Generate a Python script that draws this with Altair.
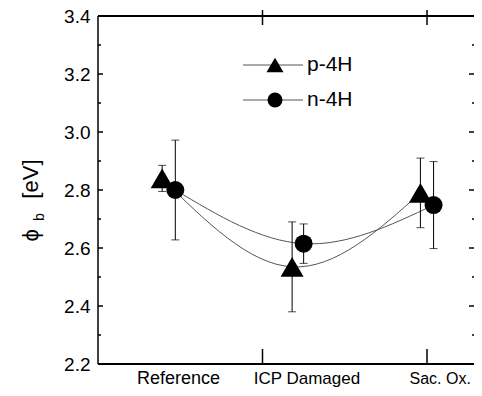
import altair as alt
import pandas as pd

series_names = ["p-4H", "n-4H"]
marker_shapes = ["triangle-up", "circle"]
categories = ["Reference", "ICP Damaged", "Sac. Ox."]
cat_pos = [0.49, 1.27, 2.08]

p_x = [0.39, 1.18, 1.96]
p_phi = [2.84, 2.535, 2.79]
p_err = [0.045, 0.155, 0.12]

n_x = [0.47, 1.25, 2.04]
n_phi = [2.80, 2.615, 2.748]
n_err = [0.172, 0.068, 0.15]

y_major = [2.2, 2.4, 2.6, 2.8, 3.0, 3.2, 3.4]
y_inner = [2.4, 2.6, 2.8, 3.0, 3.2]
y_minor = [2.3, 2.5, 2.7, 2.9, 3.1, 3.3]
x_ticks = [1, 2]

# non-breaking spaces leave room for the subscript "b"
y_title = "ϕ" + "\u00a0" * 5 + "[eV]"
y_title_sub = ["b"]

FONT = "Liberation Sans"
W, H = 376, 348
PX_PER_UNIT = 164.5
LINE_GRAY = "#555555"

df = pd.DataFrame({
    "series": [series_names[0]] * 3 + [series_names[1]] * 3,
    "x": p_x + n_x,
    "phi": p_phi + n_phi,
    "err": p_err + n_err,
})
df["lo"] = df["phi"] - df["err"]
df["hi"] = df["phi"] + df["err"]

xs = alt.Scale(domain=[0, W / PX_PER_UNIT], nice=False, zero=False)
ys = alt.Scale(domain=[2.2, 3.4], nice=False, zero=False)
yaxis = alt.Axis(values=y_major, format=".1f", ticks=False, domain=False, grid=False,
                 labelFontSize=19, labelFont=FONT, labelColor="black", labelPadding=8,
                 title=y_title, titleFont=FONT, titleFontSize=22, titleFontWeight="normal",
                 titleColor="black", titleAngle=270, titleAlign="center",
                 titleBaseline="middle", titleX=-68, titleY=184)

X = alt.X("x:Q", scale=xs, axis=None)
shape_scale = alt.Scale(domain=series_names, range=marker_shapes)

base = alt.Chart(df)

lines = base.mark_line(interpolate="natural", strokeWidth=1, color=LINE_GRAY).encode(
    x=X,
    y=alt.Y("phi:Q", scale=ys, axis=yaxis),
    detail="series:N",
)

err_rule = base.mark_rule(color="black", strokeWidth=1).encode(
    x=X, y=alt.Y("lo:Q", scale=ys, axis=yaxis), y2="hi:Q")
cap_lo = base.mark_tick(orient="horizontal", size=8, thickness=1, color="black").encode(
    x=X, y=alt.Y("lo:Q", scale=ys, axis=yaxis))
cap_hi = base.mark_tick(orient="horizontal", size=8, thickness=1, color="black").encode(
    x=X, y=alt.Y("hi:Q", scale=ys, axis=yaxis))

points = base.mark_point(filled=True, color="black", opacity=1).encode(
    x=X,
    y=alt.Y("phi:Q", scale=ys, axis=yaxis),
    shape=alt.Shape("series:N", scale=shape_scale, legend=None),
    size=alt.Size("series:N", scale=alt.Scale(domain=series_names, range=[530, 324]), legend=None),
)

# frame (left, top, bottom; the right edge lies outside the picture)
one = pd.DataFrame({"k": [0]})
fc = alt.Chart(one)
frame_left = fc.mark_rule(color="black", strokeWidth=1.5).encode(
    x=alt.value(0), y=alt.value(0), y2=alt.value(H))
frame_top = fc.mark_rule(color="black", strokeWidth=2).encode(
    x=alt.value(0), x2=alt.value(W), y=alt.value(0))
frame_bottom = fc.mark_rule(color="black", strokeWidth=2).encode(
    x=alt.value(0), x2=alt.value(W), y=alt.value(H))

# axis ticks (inward, as in the original)
tk_major = pd.DataFrame({"t": y_inner})
tk_minor = pd.DataFrame({"t": y_minor})
tk_x = pd.DataFrame({"x": x_ticks})
tick_style = dict(color="black", strokeWidth=1.5)
left_major = alt.Chart(tk_major).mark_rule(**tick_style).encode(
    y=alt.Y("t:Q", scale=ys, axis=yaxis), x=alt.value(0), x2=alt.value(5))
left_minor = alt.Chart(tk_minor).mark_rule(**tick_style).encode(
    y=alt.Y("t:Q", scale=ys, axis=yaxis), x=alt.value(0), x2=alt.value(3))
right_major = alt.Chart(tk_major).mark_rule(**tick_style).encode(
    y=alt.Y("t:Q", scale=ys, axis=yaxis), x=alt.value(W), x2=alt.value(W - 5))
right_minor = alt.Chart(tk_minor).mark_rule(**tick_style).encode(
    y=alt.Y("t:Q", scale=ys, axis=yaxis), x=alt.value(W), x2=alt.value(W - 2))
top_ticks = alt.Chart(tk_x).mark_rule(**tick_style).encode(
    x=X, y=alt.value(-6), y2=alt.value(9))
bottom_ticks = alt.Chart(tk_x).mark_rule(**tick_style).encode(
    x=X, y=alt.value(H), y2=alt.value(H - 15))

# legend (line + marker + label), placed inside the plot like the original
legend_layers = []
for i, name in enumerate(series_names):
    ly = 49 + 35 * i
    ldf = pd.DataFrame({"label": [name]})
    lc = alt.Chart(ldf)
    legend_layers.append(lc.mark_rule(color=LINE_GRAY, strokeWidth=1).encode(
        x=alt.value(145), x2=alt.value(205), y=alt.value(ly)))
    legend_layers.append(lc.mark_point(filled=True, color="black", opacity=1,
                                       size=289 if i == 0 else 225).encode(
        x=alt.value(177), y=alt.value(ly),
        shape=alt.Shape("label:N", scale=shape_scale, legend=None)))
    legend_layers.append(lc.mark_text(font=FONT, fontSize=21, color="black", align="left",
                                      baseline="middle").encode(
        x=alt.value(209), y=alt.value(ly), text="label:N"))

# category labels under the axis
cat_df = pd.DataFrame({"label": categories, "x": cat_pos})
cat_text = alt.Chart(cat_df).mark_text(font=FONT, color="black", baseline="alphabetic",
                                       align="center").encode(
    x=X, y=alt.value(H + 20), text="label:N",
    size=alt.Size("label:N", scale=alt.Scale(domain=categories, range=[18, 16, 17]), legend=None),
)

# subscript b of the y-axis title
sdf = pd.DataFrame({"part": y_title_sub})
t_b = alt.Chart(sdf).mark_text(font=FONT, color="black", align="center", baseline="middle",
                               angle=270, fontSize=14).encode(
    x=alt.value(-58), y=alt.value(201), text="part:N")

chart = alt.layer(
    lines, err_rule, cap_lo, cap_hi, points,
    frame_left, frame_top, frame_bottom,
    left_major, left_minor, right_major, right_minor, top_ticks, bottom_ticks,
    *legend_layers, cat_text, t_b,
).resolve_scale(size="independent").properties(
    width=W, height=H,
    padding={"left": 90, "top": 8, "right": 0, "bottom": 24},
    autosize=alt.AutoSizeParams(type="none"),
).configure_view(stroke=None)

chart.save("out.html", embed_options={"renderer": "svg", "actions": False})
